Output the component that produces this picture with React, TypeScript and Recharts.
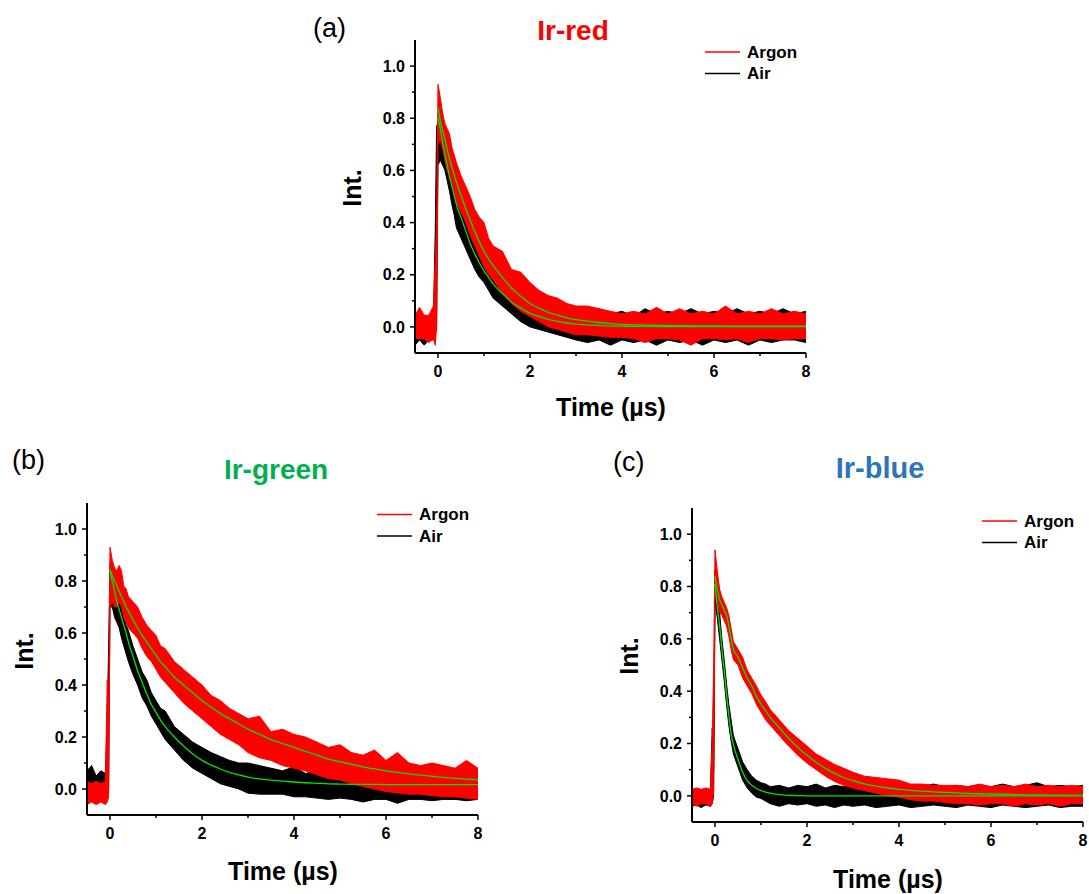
import React from 'react';
import { ComposedChart, Area, Line, XAxis, YAxis } from 'recharts';

// ---------- shared time grid (µs) ----------
const timeGrid = [
  -0.5, -0.4, -0.3, -0.2, -0.1, -0.06, -0.03,
  0, 0.05, 0.1, 0.15, 0.2, 0.25, 0.3, 0.35, 0.4,
  0.5, 0.6, 0.7, 0.8, 0.9, 1.0, 1.1, 1.2,
  1.4, 1.6, 1.8, 2.0, 2.2, 2.4, 2.6, 2.8, 3.0,
  3.25, 3.5, 3.75, 4.0, 4.25, 4.5, 4.75, 5.0, 5.25, 5.5,
  5.75, 6.0, 6.25, 6.5, 6.75, 7.0, 7.25, 7.5, 7.75, 8.0,
];
const FIT_START = 7; // index of t = 0

const xTicks = [0, 1, 2, 3, 4, 5, 6, 7, 8];
const yTicks = [0, 0.1, 0.2, 0.3, 0.4, 0.5, 0.6, 0.7, 0.8, 0.9, 1.0];

// ---------- (a) Ir-red ----------
const argonLoA = [
  -0.045, -0.045, -0.045, -0.06, -0.045, -0.07, 0.0,
  0.70, 0.72, 0.68, 0.64, 0.60, 0.58, 0.55, 0.52, 0.48,
  0.44, 0.40, 0.35, 0.31, 0.27, 0.23, 0.20, 0.18,
  0.13, 0.09, 0.06, 0.04, 0.02, 0.0, -0.01, -0.02, -0.03,
  -0.03, -0.035, -0.04, -0.04, -0.045, -0.06, -0.045, -0.045, -0.05, -0.07,
  -0.045, -0.045, -0.05, -0.045, -0.06, -0.045, -0.045, -0.05, -0.045, -0.045,
];
const argonHiA = [
  0.045, 0.075, 0.045, 0.045, 0.08, 0.26, 0.40,
  0.93, 0.88, 0.82, 0.78, 0.76, 0.74, 0.69, 0.66, 0.63,
  0.58, 0.54, 0.50, 0.45, 0.42, 0.40, 0.34, 0.31,
  0.29, 0.22, 0.21, 0.17, 0.14, 0.12, 0.11, 0.09, 0.08,
  0.08, 0.07, 0.06, 0.05, 0.06, 0.05, 0.075, 0.05, 0.07, 0.05,
  0.06, 0.05, 0.08, 0.05, 0.06, 0.05, 0.07, 0.05, 0.06, 0.05,
];
const airLoA = [
  -0.07, -0.05, -0.07, -0.05, -0.05, -0.03, 0.0,
  0.62, 0.64, 0.62, 0.60, 0.56, 0.52, 0.47, 0.43, 0.38,
  0.34, 0.30, 0.26, 0.22, 0.19, 0.17, 0.14, 0.11,
  0.08, 0.05, 0.02, 0.0, -0.01, -0.02, -0.03, -0.04, -0.05,
  -0.06, -0.05, -0.07, -0.05, -0.06, -0.05, -0.07, -0.05, -0.06, -0.05,
  -0.07, -0.05, -0.06, -0.05, -0.07, -0.05, -0.06, -0.05, -0.05, -0.06,
];
const airHiA = [
  0.03, 0.03, 0.03, 0.03, 0.03, 0.37, 0.77,
  0.78, 0.76, 0.72, 0.68, 0.65, 0.61, 0.58, 0.55, 0.50,
  0.45, 0.40, 0.36, 0.32, 0.29, 0.26, 0.23, 0.21,
  0.17, 0.14, 0.12, 0.10, 0.09, 0.07, 0.06, 0.05, 0.05,
  0.06, 0.07, 0.05, 0.06, 0.04, 0.07, 0.05, 0.06, 0.05, 0.07,
  0.05, 0.06, 0.05, 0.07, 0.05, 0.06, 0.05, 0.07, 0.05, 0.06,
];
const argonFitA = [
  0.84, 0.79, 0.755, 0.72, 0.68, 0.645, 0.615, 0.585, 0.555,
  0.505, 0.455, 0.41, 0.365, 0.325, 0.29, 0.26, 0.235,
  0.19, 0.148, 0.118, 0.09, 0.072, 0.056, 0.045, 0.035, 0.028,
  0.022, 0.017, 0.013, 0.01, 0.008, 0.007, 0.006, 0.005, 0.005, 0.004,
  0.004, 0.004, 0.003, 0.003, 0.003, 0.003, 0.003, 0.003, 0.003, 0.003,
];
const airFitA = [
  0.80, 0.76, 0.71, 0.665, 0.62, 0.575, 0.54, 0.505, 0.47,
  0.42, 0.37, 0.32, 0.28, 0.245, 0.215, 0.19, 0.165,
  0.128, 0.095, 0.072, 0.052, 0.04, 0.029, 0.021, 0.015, 0.011,
  0.008, 0.006, 0.004, 0.003, 0.002, 0.002, 0.002, 0.001, 0.001, 0.001,
  0.001, 0.001, 0.001, 0.001, 0.001, 0.001, 0.001, 0.001, 0.001, 0.001,
];

// ---------- (b) Ir-green ----------
const argonLoB = [
  -0.06, -0.05, -0.06, -0.05, -0.06, -0.05, -0.03,
  0.70, 0.72, 0.70, 0.70, 0.72, 0.70, 0.66, 0.64, 0.62,
  0.60, 0.58, 0.54, 0.51, 0.49, 0.46, 0.43, 0.41,
  0.37, 0.33, 0.30, 0.27, 0.24, 0.21, 0.19, 0.17, 0.14,
  0.12, 0.11, 0.09, 0.08, 0.07, 0.055, 0.04, 0.035, 0.02, 0.01,
  0.0, -0.01, -0.015, -0.02, -0.02, -0.025, -0.03, -0.03, -0.035, -0.04,
];
const argonHiB = [
  0.03, 0.02, 0.03, 0.02, 0.03, 0.42, 0.30,
  0.93, 0.88, 0.85, 0.84, 0.86, 0.84, 0.78, 0.77, 0.74,
  0.72, 0.70, 0.66, 0.63, 0.61, 0.59, 0.55, 0.54,
  0.49, 0.46, 0.43, 0.40, 0.36, 0.34, 0.31, 0.29, 0.27,
  0.28, 0.22, 0.23, 0.21, 0.20, 0.18, 0.16, 0.17, 0.14, 0.13,
  0.15, 0.11, 0.14, 0.10, 0.09, 0.10, 0.09, 0.08, 0.11, 0.08,
];
const airLoB = [
  -0.04, -0.03, -0.04, -0.03, -0.04, -0.03, 0.0,
  0.70, 0.70, 0.66, 0.64, 0.62, 0.58, 0.55, 0.52, 0.49,
  0.44, 0.40, 0.35, 0.32, 0.28, 0.25, 0.22, 0.19,
  0.15, 0.11, 0.08, 0.06, 0.04, 0.02, 0.01, 0.0, -0.016,
  -0.02, -0.02, -0.02, -0.03, -0.03, -0.035, -0.04, -0.035, -0.04, -0.05,
  -0.04, -0.04, -0.055, -0.04, -0.04, -0.045, -0.04, -0.04, -0.045, -0.04,
];
const airHiB = [
  0.07, 0.09, 0.05, 0.07, 0.06, 0.27, 0.55,
  0.87, 0.84, 0.76, 0.73, 0.74, 0.70, 0.66, 0.63, 0.61,
  0.55, 0.50, 0.45, 0.42, 0.37, 0.34, 0.31, 0.30,
  0.24, 0.21, 0.18, 0.16, 0.14, 0.125, 0.11, 0.10, 0.10,
  0.09, 0.08, 0.07, 0.085, 0.06, 0.07, 0.06, 0.065, 0.06, 0.05,
  0.06, 0.05, 0.05, 0.05, 0.06, 0.05, 0.05, 0.05, 0.06, 0.05,
];
const argonFitB = [
  0.845, 0.82, 0.80, 0.78, 0.76, 0.74, 0.72, 0.70, 0.685,
  0.65, 0.62, 0.59, 0.565, 0.54, 0.515, 0.49, 0.47,
  0.43, 0.40, 0.37, 0.34, 0.315, 0.29, 0.27, 0.25, 0.23,
  0.21, 0.19, 0.175, 0.16, 0.145, 0.13, 0.115, 0.105, 0.095, 0.085,
  0.077, 0.07, 0.064, 0.058, 0.053, 0.049, 0.045, 0.041, 0.038, 0.035,
];
const airFitB = [
  0.84, 0.80, 0.76, 0.72, 0.69, 0.66, 0.63, 0.60, 0.565,
  0.51, 0.455, 0.41, 0.365, 0.325, 0.295, 0.265, 0.24,
  0.20, 0.165, 0.135, 0.11, 0.092, 0.077, 0.064, 0.054, 0.046,
  0.039, 0.034, 0.03, 0.027, 0.024, 0.022, 0.02, 0.019, 0.018, 0.018,
  0.018, 0.017, 0.017, 0.017, 0.017, 0.017, 0.017, 0.017, 0.017, 0.017,
];

// ---------- (c) Ir-blue ----------
const argonLoC = [
  -0.03, -0.04, -0.03, -0.03, -0.04, -0.03, 0.02,
  0.78, 0.74, 0.70, 0.69, 0.67, 0.65, 0.61, 0.56, 0.52,
  0.50, 0.45, 0.42, 0.39, 0.35, 0.32, 0.29, 0.27,
  0.23, 0.19, 0.155, 0.125, 0.10, 0.075, 0.055, 0.04, 0.03,
  0.02, 0.01, 0.0, -0.005, -0.015, -0.02, -0.02, -0.025, -0.03, -0.03,
  -0.035, -0.03, -0.03, -0.04, -0.03, -0.035, -0.03, -0.04, -0.03, -0.03,
];
const argonHiC = [
  0.025, 0.03, 0.025, 0.03, 0.025, 0.21, 0.50,
  0.94, 0.86, 0.79, 0.76, 0.74, 0.72, 0.69, 0.64, 0.59,
  0.56, 0.53, 0.48, 0.45, 0.42, 0.385, 0.36, 0.33,
  0.29, 0.25, 0.22, 0.19, 0.16, 0.14, 0.12, 0.105, 0.09,
  0.075, 0.07, 0.065, 0.06, 0.045, 0.045, 0.04, 0.04, 0.04, 0.035,
  0.045, 0.035, 0.04, 0.035, 0.045, 0.035, 0.04, 0.035, 0.04, 0.035,
];
const airLoC = [
  -0.04, -0.035, -0.045, -0.035, -0.04, -0.03, 0.0,
  0.74, 0.68, 0.60, 0.52, 0.44, 0.35, 0.27, 0.21, 0.16,
  0.11, 0.06, 0.03, 0.01, -0.005, -0.01, -0.02, -0.03,
  -0.04, -0.03, -0.035, -0.03, -0.04, -0.035, -0.045, -0.035, -0.04,
  -0.035, -0.045, -0.04, -0.035, -0.045, -0.04, -0.035, -0.04, -0.045, -0.035,
  -0.04, -0.045, -0.035, -0.04, -0.045, -0.04, -0.035, -0.045, -0.04, -0.04,
];
const airHiC = [
  0.02, 0.02, 0.02, 0.02, 0.02, 0.26, 0.10,
  0.86, 0.78, 0.70, 0.60, 0.52, 0.43, 0.35, 0.29, 0.23,
  0.18, 0.13, 0.10, 0.075, 0.06, 0.05, 0.045, 0.035,
  0.04, 0.03, 0.04, 0.035, 0.045, 0.03, 0.04, 0.035, 0.045,
  0.035, 0.04, 0.05, 0.035, 0.04, 0.035, 0.045, 0.035, 0.04, 0.035,
  0.04, 0.035, 0.045, 0.035, 0.04, 0.05, 0.035, 0.04, 0.035, 0.04,
];
const argonFitC = [
  0.84, 0.79, 0.75, 0.73, 0.71, 0.69, 0.65, 0.60, 0.56,
  0.53, 0.49, 0.45, 0.42, 0.38, 0.35, 0.325, 0.30,
  0.26, 0.22, 0.185, 0.155, 0.128, 0.105, 0.086, 0.07, 0.058,
  0.046, 0.037, 0.03, 0.025, 0.021, 0.018, 0.015, 0.013, 0.011, 0.009,
  0.008, 0.007, 0.006, 0.005, 0.004, 0.004, 0.003, 0.003, 0.002, 0.002,
];
const airFitC = [
  0.81, 0.72, 0.65, 0.56, 0.48, 0.39, 0.31, 0.24, 0.195,
  0.14, 0.09, 0.058, 0.04, 0.028, 0.02, 0.014, 0.01,
  0.005, 0.002, 0.001, 0, 0, 0, 0, 0, 0,
  0, 0, 0, 0, 0, 0, 0, 0, 0, 0,
  0, 0, 0, 0, 0, 0, 0, 0, 0, 0,
];

const buildRows = (
  argonLo: number[], argonHi: number[], airLo: number[], airHi: number[],
  argonFit: number[], airFit: number[],
) =>
  timeGrid.map((t, i) => ({
    t,
    argon: [argonLo[i], argonHi[i]],
    air: [airLo[i], airHi[i]],
    argonFit: i >= FIT_START ? argonFit[i - FIT_START] : null,
    airFit: i >= FIT_START ? airFit[i - FIT_START] : null,
  }));

const rowsA = buildRows(argonLoA, argonHiA, airLoA, airHiA, argonFitA, airFitA);
const rowsB = buildRows(argonLoB, argonHiB, airLoB, airHiB, argonFitB, airFitB);
const rowsC = buildRows(argonLoC, argonHiC, airLoC, airHiC, argonFitC, airFitC);

const FONT = '"Liberation Sans", Arial, Helvetica, sans-serif';
const RED = '#ff0000';
const FIT = '#00e400';
const Y_AXIS_W = 60;
const X_AXIS_H = 40;
const M_TOP = 4;
const M_RIGHT = 14;

const XTick = (p: any) => {
  const { x, y, payload } = p;
  const v = payload.value;
  const major = Math.round(v) % 2 === 0;
  return (
    <g>
      <line x1={x} x2={x} y1={y} y2={y + (major ? 5 : 3)} stroke="#000" strokeWidth={1.5} />
      {major && (
        <text x={x} y={y + 24} textAnchor="middle" fontFamily={FONT} fontWeight="bold" fontSize={16} fill="#000">
          {v}
        </text>
      )}
    </g>
  );
};

const YTick = (p: any) => {
  const { x, y, payload } = p;
  const v = payload.value;
  const major = Math.round(v * 10) % 2 === 0;
  return (
    <g>
      <line x1={x} x2={x - (major ? 5 : 3)} y1={y} y2={y} stroke="#000" strokeWidth={1.5} />
      {major && (
        <text x={x - 10} y={y + 5.7} textAnchor="end" fontFamily={FONT} fontWeight="bold" fontSize={16} fill="#000">
          {v.toFixed(1)}
        </text>
      )}
    </g>
  );
};

type PanelProps = { left: number; top: number; w: number; h: number; data: any[] };

const Panel = ({ left, top, w, h, data }: PanelProps) => (
  <div style={{ position: 'absolute', left: left - Y_AXIS_W, top: top - M_TOP }}>
    <ComposedChart
      width={Y_AXIS_W + w + M_RIGHT}
      height={M_TOP + h + X_AXIS_H}
      data={data}
      margin={{ top: M_TOP, right: M_RIGHT, bottom: 0, left: 0 }}
    >
      <XAxis
        type="number"
        dataKey="t"
        domain={[-0.5, 8]}
        ticks={xTicks}
        interval={0}
        tickSize={0}
        tickMargin={0}
        tick={(p: any) => <XTick {...p} />}
        axisLine={{ stroke: '#000', strokeWidth: 2 }}
        height={X_AXIS_H}
        allowDataOverflow
      />
      <YAxis
        type="number"
        domain={[-0.1, 1.1]}
        ticks={yTicks}
        interval={0}
        tickSize={0}
        tickMargin={0}
        tick={(p: any) => <YTick {...p} />}
        axisLine={{ stroke: '#000', strokeWidth: 2 }}
        width={Y_AXIS_W}
        allowDataOverflow
      />
      <Area type="linear" dataKey="air" stroke="#000" strokeWidth={1} fill="#000" fillOpacity={1} dot={false} activeDot={false} isAnimationActive={false} />
      <Area type="linear" dataKey="argon" stroke={RED} strokeWidth={1} fill={RED} fillOpacity={1} dot={false} activeDot={false} isAnimationActive={false} />
      <Line type="monotone" dataKey="airFit" stroke={FIT} strokeWidth={1.3} dot={false} activeDot={false} isAnimationActive={false} />
      <Line type="monotone" dataKey="argonFit" stroke={FIT} strokeWidth={1.3} dot={false} activeDot={false} isAnimationActive={false} />
    </ComposedChart>
  </div>
);

const Legend = ({ x, y }: { x: number; y: number }) => (
  <g>
    <line x1={x} x2={x + 35} y1={y} y2={y} stroke={RED} strokeWidth={1.5} />
    <text x={x + 42} y={y + 5.8} fontFamily={FONT} fontWeight="bold" fontSize={17} fill="#000">Argon</text>
    <line x1={x} x2={x + 35} y1={y + 21.5} y2={y + 21.5} stroke="#000" strokeWidth={1.5} />
    <text x={x + 42} y={y + 27.3} fontFamily={FONT} fontWeight="bold" fontSize={17} fill="#000">Air</text>
  </g>
);

const YTitle = ({ x, y }: { x: number; y: number }) => (
  <text x={x} y={y} transform={`rotate(-90 ${x} ${y})`} textAnchor="middle" fontFamily={FONT} fontWeight="bold" fontSize={25} fill="#000">
    Int.
  </text>
);

const XTitle = ({ x, y }: { x: number; y: number }) => (
  <text x={x} y={y} textAnchor="middle" fontFamily={FONT} fontWeight="bold" fontSize={25} fill="#000">
    Time (µs)
  </text>
);

export default function App() {
  return (
    <div style={{ position: 'absolute', left: 0, top: 0, width: 1089, height: 894, background: '#fff', overflow: 'hidden' }}>
      <Panel left={415} top={40} w={391} h={313} data={rowsA} />
      <Panel left={87} top={503} w={391} h={312} data={rowsB} />
      <Panel left={692} top={508} w={391} h={314} data={rowsC} />
      <svg width={1089} height={894} style={{ position: 'absolute', left: 0, top: 0, pointerEvents: 'none' }}>
        {/* (a) */}
        <text x={313} y={37} fontFamily={FONT} fontSize={27} fill="#000">(a)</text>
        <text x={573} y={40} textAnchor="middle" fontFamily={FONT} fontWeight="bold" fontSize={28} fill="#ff0000">Ir-red</text>
        <Legend x={705} y={52} />
        <YTitle x={361} y={188} />
        <XTitle x={611} y={416} />
        {/* (b) */}
        <text x={12} y={469} fontFamily={FONT} fontSize={27} fill="#000">(b)</text>
        <text x={276} y={479} textAnchor="middle" fontFamily={FONT} fontWeight="bold" fontSize={28} fill="#00b050">Ir-green</text>
        <Legend x={377} y={514.5} />
        <YTitle x={33} y={651} />
        <XTitle x={283} y={880} />
        {/* (c) */}
        <text x={613} y={471} fontFamily={FONT} fontSize={27} fill="#000">(c)</text>
        <text x={880} y={478} textAnchor="middle" fontFamily={FONT} fontWeight="bold" fontSize={29} fill="#2e75b6">Ir-blue</text>
        <Legend x={982} y={521} />
        <YTitle x={638} y={656} />
        <XTitle x={888} y={888} />
      </svg>
    </div>
  );
}
